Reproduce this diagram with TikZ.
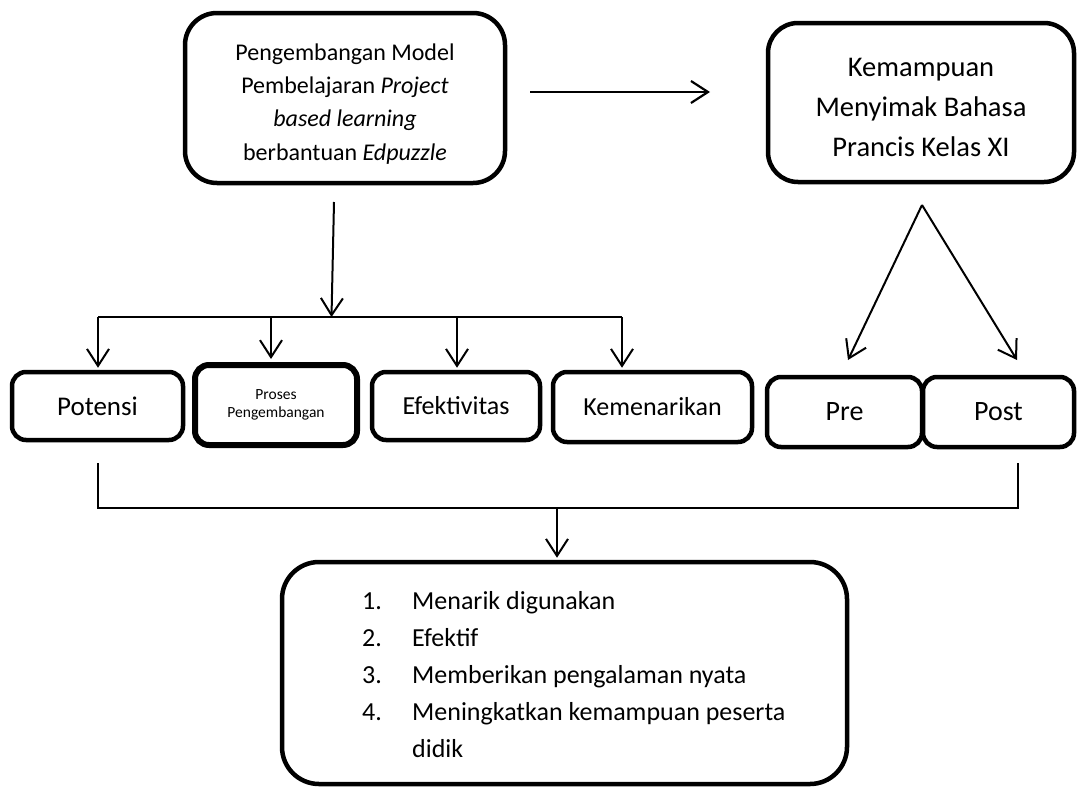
\documentclass[tikz,border=0pt]{standalone}
\usepackage{fontspec}
\setmainfont{Carlito}
\usetikzlibrary{arrows.meta}
\begin{document}
\begin{tikzpicture}[x=1pt,y=-1pt,
  box/.style={draw, line width=4.5pt, rounded corners=14pt, inner sep=0pt, align=center},
  conn/.style={line width=2pt, -{Straight Barb[length=17pt,width=22pt]}},
  thinline/.style={line width=1.4pt}]
\useasboundingbox (0,0) rectangle (1078,787);

% boxes
\node[box, rounded corners=32pt, minimum width=320pt, minimum height=170pt,
      font=\fontsize{24}{33.3}\selectfont] (tl) at (345,98)
  {\rule{0pt}{28pt}Pengembangan Model\\Pembelajaran \textit{Project}\\\textit{based learning}\\berbantuan \textit{Edpuzzle}};
\node[box, rounded corners=30pt, minimum width=306pt, minimum height=159pt,
      font=\fontsize{28.5}{40}\selectfont] (tr) at (921,102.5)
  {\rule{0pt}{29pt}Kemampuan\\Menyimak Bahasa\\Prancis Kelas XI};

\node[box, minimum width=171pt, minimum height=68pt, font=\fontsize{27}{32}\selectfont] (pot) at (97.5,406) {Potensi};
\node[box, line width=6pt, minimum width=162pt, minimum height=80pt, font=\fontsize{15.5}{18}\selectfont] (pro) at (276,405) {Proses\\Pengembangan};
\node[box, minimum width=168pt, minimum height=68pt, font=\fontsize{26}{31}\selectfont] (efe) at (456,406) {Efektivitas};
\node[box, minimum width=199pt, minimum height=70pt, font=\fontsize{26}{31}\selectfont] (kem) at (652.5,407) {Kemenarikan};
\node[box, minimum width=155pt, minimum height=70pt, font=\fontsize{28}{33}\selectfont] (pre) at (844.5,412) {Pre};
\node[box, minimum width=151pt, minimum height=70pt, font=\fontsize{28}{33}\selectfont] (post) at (998.5,412) {Post};

\node[box, rounded corners=37pt, minimum width=565pt, minimum height=222pt] (bot) at (564.5,673) {};
\node[anchor=west, align=left, inner sep=0pt, font=\fontsize{26}{37}\selectfont] (lst) at (362,674.5)
  {\makebox[50pt][l]{1.}Menarik digunakan\\
   \makebox[50pt][l]{2.}Efektif\\
   \makebox[50pt][l]{3.}Memberikan pengalaman nyata\\
   \makebox[50pt][l]{4.}Meningkatkan kemampuan peserta\\
   \makebox[50pt][l]{}didik};

% top arrow
\coordinate (ra1) at (530,92);
\coordinate (ra2) at (710,92);
\draw[conn, line width=2.2pt] (ra1) -- (ra2);

% left tree
\coordinate (v1) at (334,202);
\coordinate (v2) at (331.5,317);
\draw[conn] (v1) -- (v2);
\coordinate (hL) at (98,317);
\coordinate (h2) at (271,317);
\coordinate (h3) at (457,317);
\coordinate (hR) at (622,317);
\draw[line width=1.8pt] (hL) -- (hR);
\draw[conn, shorten >=2pt] (hL) -- (hL |- pot.north);
\draw[conn, shorten >=3pt] (h2) -- (h2 |- pro.north);
\draw[conn, shorten >=2pt] (h3) -- (h3 |- efe.north);
\draw[conn, shorten >=2pt] (hR) -- (hR |- kem.north);

% right split
\coordinate (apex) at (922,205);
\coordinate (tp1) at (848,360);
\coordinate (tp2) at (1017,360);
\draw[conn] (apex) -- (tp1);
\draw[conn] (apex) -- (tp2);

% bottom join
\coordinate (b1) at (98,463);
\coordinate (b2) at (1018,463);
\coordinate (bm) at (557,508);
\draw[thinline] (b1) -- (b1 |- bm) -- (b2 |- bm) -- (b2);
\draw[conn, shorten >=2pt] (bm) -- (bm |- bot.north);
\end{tikzpicture}
\end{document}
